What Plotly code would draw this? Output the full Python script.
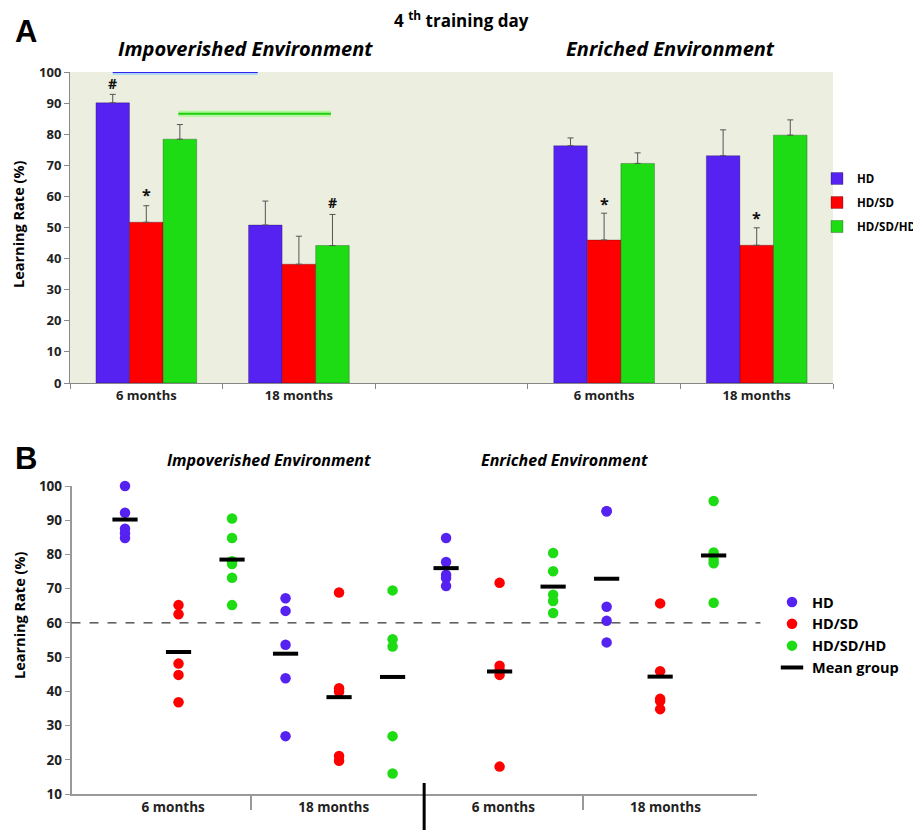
import plotly.graph_objects as go

# page has an 8px body margin: the figure is drawn 8px right/down of the window origin
OFF = 8
W, H = 921 - OFF, 830 - OFF
FONT = "Open Sans"

# ---------------- Panel A data ----------------
groups = ["HD", "HD/SD", "HD/SD/HD"]
colors = ["#5522F2", "#FF0000", "#1EDC14"]
a_cats = ["6 months", "18 months", "6 months", "18 months"]
a_pos = [0, 1, 3, 4]  # slot index for Impov 6m, Impov 18m, Enr 6m, Enr 18m
a_means = {
    "HD": [90.1, 50.8, 76.3, 73.1],
    "HD/SD": [51.7, 38.2, 46.0, 44.3],
    "HD/SD/HD": [78.4, 44.2, 70.6, 79.7],
}
a_err = {
    "HD": [2.7, 7.7, 2.5, 8.3],
    "HD/SD": [5.3, 9.0, 8.6, 5.6],
    "HD/SD/HD": [4.7, 10.0, 3.4, 4.9],
}
a_ticks = [0, 10, 20, 30, 40, 50, 60, 70, 80, 90, 100]
# significance marks: (x in slot units, y, text)
a_marks = [(-0.22, 96.4, "#"), (0.0, 60.4, "*"), (1.22, 58.0, "#"),
           (3.0, 57.6, "*"), (4.0, 53.0, "*")]
# comparison lines: (x0, x1, y, color, glow)
a_lines = [(-0.22, 0.73, 100, "#3322EE", "rgba(120,200,255,0.55)"),
           (0.21, 1.21, 86.6, "#22CC11", "rgba(120,255,90,0.5)")]

# ---------------- Panel B data ----------------
b_groups_labels = ["6 months", "18 months", "6 months", "18 months"]
b_points = {
    "HD": [[100, 92.2, 87.5, 86.2, 84.8],
           [67.2, 63.5, 53.6, 43.8, 26.9],
           [84.8, 77.8, 74.1, 73.1, 70.8],
           [92.6, 92.6, 64.7, 60.6, 54.3]],
    "HD/SD": [[65.2, 62.5, 48.1, 44.8, 36.8],
              [68.9, 40.9, 39.9, 21.1, 19.7],
              [71.7, 47.5, 46.2, 44.8, 18.0],
              [65.7, 45.9, 37.8, 37.2, 34.8]],
    "HD/SD/HD": [[90.5, 84.8, 78.0, 77.2, 73.2, 65.2],
                 [69.5, 55.2, 53.1, 26.9, 16.0],
                 [80.4, 75.1, 68.2, 66.4, 62.9],
                 [95.6, 80.6, 78.4, 77.4, 65.9]],
}
b_means = {
    "HD": [90.2, 51.0, 76.0, 72.9],
    "HD/SD": [51.5, 38.3, 45.8, 44.3],
    "HD/SD/HD": [78.5, 44.2, 70.6, 79.7],
}
b_ticks = [10, 20, 30, 40, 50, 60, 70, 80, 90, 100]
b_threshold = 60

fig = go.Figure()

# ---- Panel A bars ----
for gi, g in enumerate(groups):
    fig.add_trace(go.Bar(
        x=a_pos, y=a_means[g], name="<b>%s</b>" % g, marker_color=colors[gi],
        marker_line=dict(color="rgba(0,0,0,0.25)", width=1),
        error_y=dict(type="data", symmetric=False, array=a_err[g],
                     arrayminus=[0] * len(a_err[g]), color="#555555",
                     thickness=1, width=3),
        xaxis="x", yaxis="y", legend="legend", legendgroup="a%d" % gi,
    ))

# ---- Panel B points ----
for gi, g in enumerate(groups):
    xs, ys = [], []
    for k, pts in enumerate(b_points[g]):
        xpos = k * 3 + gi + 1
        xs += [xpos] * len(pts)
        ys += pts
    fig.add_trace(go.Scatter(
        x=xs, y=ys, mode="markers", name="<b>%s</b>" % g,
        marker=dict(color=colors[gi], size=10.5, line=dict(width=0)),
        xaxis="x2", yaxis="y2", legend="legend2", cliponaxis=False,
    ))
mx, my = [], []
for gi, g in enumerate(groups):
    for k, m in enumerate(b_means[g]):
        mx.append(k * 3 + gi + 1)
        my.append(m)
fig.add_trace(go.Scatter(
    x=mx, y=my, mode="markers", name="<b>Mean group</b>",
    marker=dict(symbol="line-ew", size=18, line=dict(color="black", width=4)),
    xaxis="x2", yaxis="y2", legend="legend2", cliponaxis=False,
))

# ---- window-pixel helpers ----
def px_x(p):
    return (p - OFF) / W

def px_y(p):
    return 1 - (p - OFF) / H

tickfont = dict(family=FONT, size=13, color="#222222")
tickfont_b = dict(family=FONT, size=13.5, color="#222222")

fig.update_layout(
    template="none",
    width=W, height=H, margin=dict(l=0, r=0, t=0, b=0, autoexpand=False),
    paper_bgcolor="white", plot_bgcolor="white",
    font=dict(family=FONT, color="black"),
    barmode="group", bargap=0.34, bargroupgap=0,
    showlegend=True,
    xaxis=dict(
        domain=[px_x(70), px_x(833)], range=[-0.5, 4.5], automargin=False,
        tickmode="array", tickvals=a_pos,
        ticktext=["<b>%s</b>" % t for t in a_cats],
        ticks="", showgrid=False, zeroline=False,
        showline=True, linecolor="#888888", linewidth=1,
        tickfont=tickfont,
        minor=dict(tickmode="array", tickvals=[-0.5, 0.5, 1.5, 2.5, 3.5, 4.5],
                   ticks="outside", ticklen=5, tickcolor="#888888", showgrid=False),
        anchor="y", fixedrange=True,
    ),
    yaxis=dict(
        domain=[px_y(383), px_y(72)], range=[0, 100], automargin=False,
        tickmode="array", tickvals=a_ticks, ticktext=["<b>%d</b>" % t for t in a_ticks],
        ticks="outside", ticklen=5,
        tickcolor="#888888", showgrid=False, zeroline=False,
        showline=True, linecolor="#888888", linewidth=1,
        tickfont=tickfont, anchor="x",
    ),
    xaxis2=dict(
        domain=[px_x(71.5), px_x(757)], range=[0, 12.81], automargin=False,
        tickmode="array", tickvals=[1.9, 4.9, 8.07, 11.1],
        ticktext=["<b>%s</b>" % t for t in b_groups_labels],
        ticks="", showgrid=False, zeroline=False,
        showline=True, linecolor="#999999", linewidth=1.5,
        tickfont=tickfont_b,
        minor=dict(tickmode="array", tickvals=[3.36, 9.56], ticks="outside",
                   ticklen=14, tickcolor="#999999", tickwidth=1.5, showgrid=False),
        anchor="y2", fixedrange=True,
    ),
    yaxis2=dict(
        domain=[px_y(794), px_y(486)], range=[10, 100], automargin=False,
        tickmode="array", tickvals=b_ticks, ticktext=["<b>%d</b>" % t for t in b_ticks],
        ticks="outside", ticklen=5,
        tickcolor="#999999", showgrid=False, zeroline=False,
        showline=True, linecolor="#999999", linewidth=1.5,
        tickfont=tickfont_b, anchor="x2",
    ),
    legend=dict(
        x=px_x(817), y=px_y(164), xanchor="left", yanchor="top",
        font=dict(family=FONT, size=11.5, color="black"),
        bgcolor="rgba(0,0,0,0)", itemwidth=30, tracegroupgap=5,
    ),
    legend2=dict(
        x=px_x(772), y=px_y(586), xanchor="left", yanchor="top",
        font=dict(family=FONT, size=14.5, color="black"),
        bgcolor="rgba(0,0,0,0)", itemwidth=30,
    ),
)

shapes = []
# panel A plot background (only the plotting area)
shapes.append(dict(type="rect", xref="x domain", yref="y domain", x0=0, x1=1, y0=0, y1=1,
                   fillcolor="#ECEEDF", line=dict(width=0), layer="below"))
for x0, x1, y, c, glow in a_lines:
    shapes.append(dict(type="line", xref="x", yref="y", x0=x0, x1=x1, y0=y, y1=y,
                       line=dict(color=glow, width=6), layer="above"))
    shapes.append(dict(type="line", xref="x", yref="y", x0=x0, x1=x1, y0=y, y1=y,
                       line=dict(color=c, width=2), layer="above"))
# panel B threshold dashed line
shapes.append(dict(type="line", xref="x2 domain", yref="y2", x0=0, x1=1.005,
                   y0=b_threshold, y1=b_threshold,
                   line=dict(color="black", width=1, dash="dash")))
# panel B thick separator between environments
shapes.append(dict(type="line", xref="x2", yref="paper", x0=6.59, x1=6.59,
                   y0=0, y1=px_y(783), line=dict(color="black", width=3)))
fig.update_layout(shapes=shapes)

ann = []
for x, y, t in a_marks:
    ann.append(dict(x=x, y=y, xref="x", yref="y", text="<b>%s</b>" % t, showarrow=False,
                    font=dict(family=FONT, size=16 if t == "*" else 14, color="#111111")))
ann += [
    dict(x=px_x(13), y=px_y(31), xref="paper", yref="paper", xanchor="left", yanchor="middle",
         text="<b>A</b>", showarrow=False, font=dict(family="Liberation Sans", size=31)),
    dict(x=px_x(461), y=px_y(20), xref="paper", yref="paper", xanchor="center", yanchor="middle",
         text="<b>4 <sup>th</sup> training day</b>", showarrow=False,
         font=dict(family=FONT, size=17)),
    dict(x=px_x(245), y=px_y(48), xref="paper", yref="paper", xanchor="center", yanchor="middle",
         text="<b><i>Impoverished Environment</i></b>", showarrow=False,
         font=dict(family=FONT, size=20)),
    dict(x=px_x(670), y=px_y(48), xref="paper", yref="paper", xanchor="center", yanchor="middle",
         text="<b><i>Enriched Environment</i></b>", showarrow=False,
         font=dict(family=FONT, size=20)),
    dict(x=px_x(13), y=px_y(458), xref="paper", yref="paper", xanchor="left", yanchor="middle",
         text="<b>B</b>", showarrow=False, font=dict(family="Liberation Sans", size=31)),
    dict(x=px_x(269), y=px_y(460), xref="paper", yref="paper", xanchor="center", yanchor="middle",
         text="<b><i>Impoverished Environment</i></b>", showarrow=False,
         font=dict(family=FONT, size=16)),
    dict(x=px_x(564), y=px_y(460), xref="paper", yref="paper", xanchor="center", yanchor="middle",
         text="<b><i>Enriched Environment</i></b>", showarrow=False,
         font=dict(family=FONT, size=16)),
    dict(x=px_x(19), y=px_y(225), xref="paper", yref="paper", xanchor="center", yanchor="middle",
         text="<b>Learning Rate (%)</b>", textangle=-90, showarrow=False,
         font=dict(family=FONT, size=14.5)),
    dict(x=px_x(19), y=px_y(616), xref="paper", yref="paper", xanchor="center", yanchor="middle",
         text="<b>Learning Rate (%)</b>", textangle=-90, showarrow=False,
         font=dict(family=FONT, size=14.5)),
]
fig.update_layout(annotations=ann)

fig.write_html("out.html")
